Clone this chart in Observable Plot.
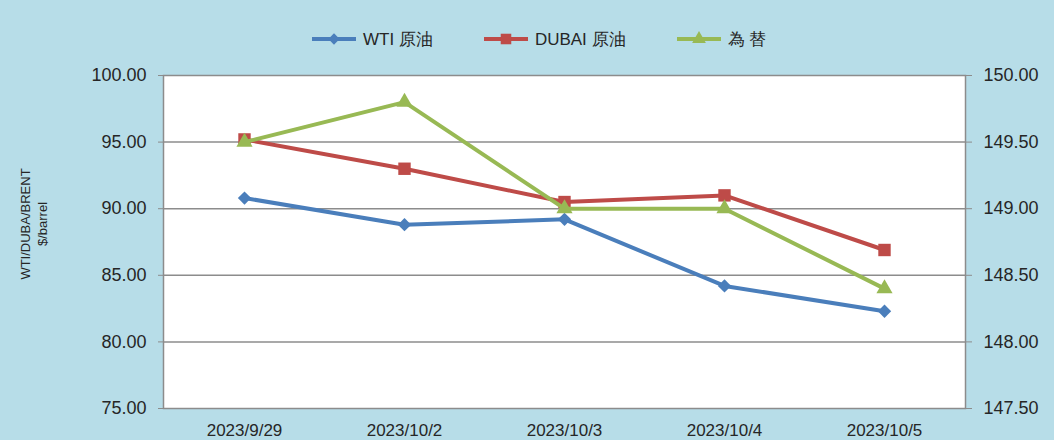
<!DOCTYPE html>
<html>
<head>
<meta charset="utf-8">
<script src="https://cdn.jsdelivr.net/npm/d3@7"></script>
<script src="https://cdn.jsdelivr.net/npm/@observablehq/plot@0.6"></script>
<style>
  html, body { margin: 0; padding: 0; background: #b7dde8; }
  body { width: 1054px; height: 440px; overflow: hidden; font-family: "Liberation Sans", Arial, sans-serif; }
  #legend { height: 42px; padding-top: 18px; display: flex; align-items: center; justify-content: flex-start; padding-left: 312px; box-sizing: content-box; font-size: 17px; color: #262626; }
  .item { display: flex; align-items: center; }
  .item svg { margin-right: 7px; }
</style>
</head>
<body>
<div id="legend"></div>
<div id="chart"></div>
<script>
const dates = ["2023/9/29", "2023/10/2", "2023/10/3", "2023/10/4", "2023/10/5"];
const wti = [90.8, 88.8, 89.2, 84.2, 82.3];
const dubai = [95.2, 93.0, 90.5, 91.0, 86.9];
const fx = [149.5, 149.8, 149.0, 149.0, 148.4];
const leftTicks = [75, 80, 85, 90, 95, 100];
const rightTicks = [147.5, 148, 148.5, 149, 149.5, 150];
const seriesNames = ["WTI 原油", "DUBAI 原油", "為 替"];
const colors = ["#4a7ebb", "#be4b48", "#98b954"];
const symbols = ["diamond2", "square", "triangle"];
const radii = [6, 7, 6];
const axisTitle = "WTI/DUBA/BRENT\n$/barrel";

// right axis (exchange rate) mapped onto left scale
const r0 = rightTicks[0], r1 = rightTicks[rightTicks.length - 1];
const l0 = leftTicks[0], l1 = leftTicks[leftTicks.length - 1];
const toLeft = v => l0 + (v - r0) * (l1 - l0) / (r1 - r0);
const fromLeft = v => r0 + (v - l0) * (r1 - r0) / (l1 - l0);

const rows = [];
dates.forEach((d, i) => {
  rows.push({date: d, series: seriesNames[0], value: wti[i]});
  rows.push({date: d, series: seriesNames[1], value: dubai[i]});
  rows.push({date: d, series: seriesNames[2], value: toLeft(fx[i])});
});

const seriesMarks = seriesNames.flatMap((s, k) => {
  const data = rows.filter(r => r.series === s);
  return [
    Plot.line(data, {x: "date", y: "value", stroke: colors[k], strokeWidth: 4}),
    Plot.dot(data, {x: "date", y: "value", symbol: symbols[k], r: radii[k], fill: colors[k], stroke: "none"})
  ];
});

const grid = "#8c8c8c";
const chart = Plot.plot({
  width: 1054,
  height: 380,
  marginTop: 15,
  marginBottom: 32,
  marginLeft: 163,
  marginRight: 89,
  style: {background: "transparent", fontFamily: "\"Liberation Sans\", Arial, sans-serif", color: "#262626"},
  x: {type: "point", domain: dates, padding: 0.5},
  y: {domain: [l0, l1]},
  marks: [
    Plot.frame({fill: "white", stroke: "none"}),
    Plot.gridY(leftTicks.slice(1, -1), {stroke: grid, strokeOpacity: 1, strokeWidth: 1.5}),
    Plot.frame({stroke: grid, strokeWidth: 1.5}),
    Plot.axisY(leftTicks, {anchor: "left", tickFormat: d => d.toFixed(2), tickSize: 5, tickPadding: 12, stroke: grid, fontSize: 18, label: null}),
    Plot.axisY(rightTicks.map(toLeft), {anchor: "right", tickFormat: d => fromLeft(d).toFixed(2), tickSize: 6, tickPadding: 12, stroke: grid, fontSize: 18, label: null}),
    Plot.axisX({tickSize: 0, tickPadding: 15, label: null, fontSize: 17}),
    Plot.text([axisTitle], {frameAnchor: "left", text: d => d, rotate: -90, textAnchor: "middle", dx: -130, dy: -18, fontSize: 13, lineHeight: 1.3, fill: "#262626"}),
    ...seriesMarks
  ]
});
document.getElementById("chart").appendChild(chart);

// legend
const legend = d3.select("#legend");
const gaps = [51, 51, 0];
seriesNames.forEach((s, k) => {
  const item = legend.append("div").attr("class", "item").style("margin-right", gaps[k] + "px");
  const sw = item.append("svg").attr("width", 44).attr("height", 16);
  sw.append("line").attr("x1", 0).attr("x2", 44).attr("y1", 8).attr("y2", 8).attr("stroke", colors[k]).attr("stroke-width", 4);
  const sym = {diamond2: d3.symbolDiamond2, square: d3.symbolSquare, triangle: d3.symbolTriangle}[symbols[k]];
  const rr = radii[k] * 0.85;
  sw.append("path").attr("transform", "translate(22,8)").attr("d", d3.symbol(sym, rr * rr * Math.PI)()).attr("fill", colors[k]);
  item.append("span").text(s);
});
</script>
</body>
</html>
